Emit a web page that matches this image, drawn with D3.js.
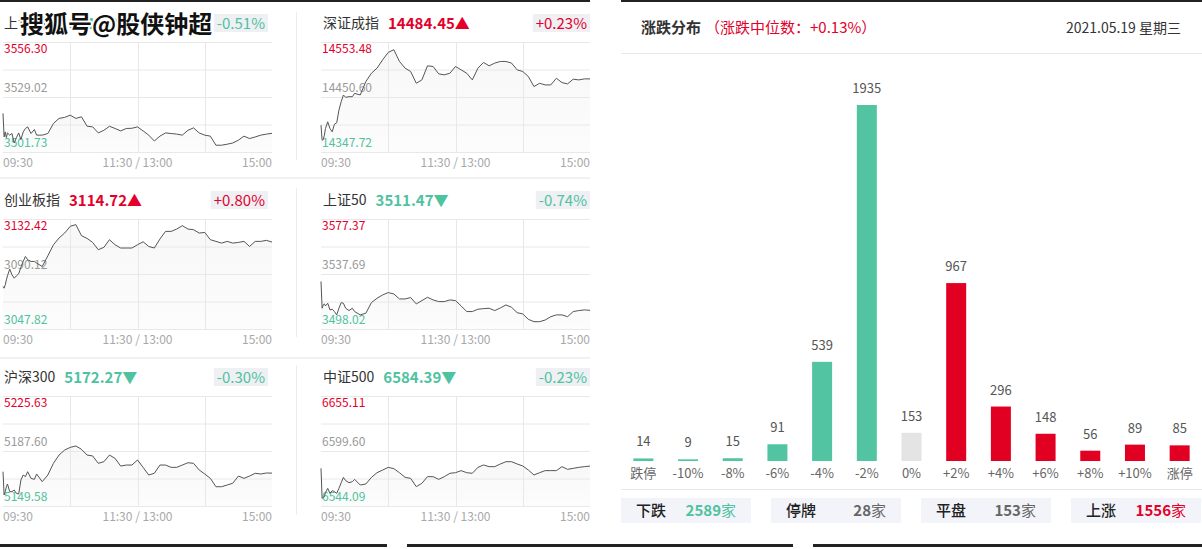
<!DOCTYPE html>
<html><head><meta charset="utf-8">
<script src="https://cdn.jsdelivr.net/npm/d3@7"></script>
<style>
body{margin:0;background:#fff;}
svg{display:block;font-family:"Noto Sans CJK SC","Noto Sans",sans-serif;}
</style>
</head><body>
<svg id="c" width="1202" height="549"></svg>
<script>
// ---------------- data ----------------
const minutes = [0,1,2,3,4,6,8,10,12,14,16,18,20,22,25,28,30,35,40,45,50,55,60,65,70,75,80,85,90,95,100,105,110,115,120,125,130,135,140,145,150,155,160,165,170,175,180,185,190,195,200,205,210,215,220,225,230,235,240];
const indexNames = ["上证指数","深证成指","创业板指","上证50","沪深300","中证500"];
const lastPrices = ["3510.96","14484.45","3114.72","3511.47","5172.27","6584.39"];
const changePcts = ["-0.51%","+0.23%","+0.80%","-0.74%","-0.30%","-0.23%"];
const axisHigh = [3556.30,14553.48,3132.42,3577.37,5225.63,6655.11];
const axisMid  = [3529.02,14450.60,3090.12,3537.69,5187.60,6599.60];
const axisLow  = [3501.73,14347.72,3047.82,3498.02,5149.58,6544.09];
const timeTicks = [[0,"09:30"],[120,"11:30 / 13:00"],[240,"15:00"]];

const shPrices = [3520.9,3509.2,3511.7,3508.9,3511.2,3510.1,3510.9,3506.2,3508.9,3511.2,3507.9,3511.7,3513.4,3514.2,3510.9,3512.9,3510.1,
 3510.1,3510.9,3515.9,3518.4,3518.9,3520.0,3518.4,3519.2,3514.5,3514.2,
 3511.2,3512.5,3514.5,3513.4,3512.2,3513.4,3513.5,3514.2,3512.2,3510.1,
 3507.2,3509.6,3511.2,3510.9,3510.6,3510.1,3512.5,3513.7,3511.2,3510.1,
 3509.6,3505.1,3505.1,3505.6,3506.2,3507.6,3509.6,3508.4,3509.2,3510.1,
 3510.6,3511.0];
const szPrices = [14397.9,14369.7,14370.9,14379.1,14391.6,14404.2,14391.6,14385.4,14399.8,14402.3,14426.1,14441.8,14454.4,14450.0,14451.2,14451.2,14457.5,
 14454.4,14479.5,14495.1,14504.6,14520.2,14534.0,14539.1,14517.1,14504.6,14498.3,
 14476.3,14482.6,14508.9,14507.7,14493.9,14492.0,14495.1,14507.7,14501.4,14495.1,
 14482.6,14504.6,14515.2,14508.9,14514.0,14517.1,14517.1,14514.0,14501.4,14498.3,
 14488.9,14470.1,14476.3,14473.2,14473.2,14485.7,14477.6,14475.1,14483.9,14482.6,
 14484.5,14484.45];
const cybPrices = [3080.5,3079.2,3081.8,3085.6,3088.7,3093.9,3089.5,3086.9,3088.7,3090.3,3095.4,3099.8,3103.6,3101.1,3099.8,3099.8,3098.5,
 3095.9,3104.1,3112.6,3117.8,3121.6,3126.8,3128.1,3119.6,3117.5,3114.4,
 3108.8,3110.6,3116.5,3112.6,3110.1,3110.1,3110.1,3112.6,3114.9,3111.3,
 3110.1,3117.0,3122.9,3122.9,3124.7,3127.3,3124.7,3124.2,3121.6,3122.1,
 3116.5,3115.2,3113.9,3115.2,3113.9,3114.4,3115.2,3111.3,3115.2,3115.2,
 3116.0,3114.7];
const sz50Prices = [3532.3,3513.0,3515.4,3516.1,3514.7,3516.6,3511.8,3512.3,3510.6,3508.2,3513.0,3517.1,3516.6,3513.0,3511.3,3513.0,3510.6,
 3508.2,3509.4,3517.1,3520.2,3522.6,3524.3,3523.3,3519.7,3519.7,3520.7,
 3516.1,3518.5,3520.9,3519.0,3517.8,3517.8,3519.0,3518.5,3514.7,3510.6,
 3510.6,3512.3,3512.7,3513.0,3511.3,3513.2,3515.4,3513.7,3509.8,3508.9,
 3505.0,3503.3,3503.3,3504.5,3506.9,3508.2,3508.2,3506.9,3510.6,3511.3,
 3511.8,3511.5];
const hs300Prices = [5173.3,5157.2,5159.5,5162.9,5164.8,5159.5,5159.5,5160.6,5158.3,5157.9,5167.6,5171.0,5169.9,5173.3,5168.7,5168.0,5171.7,
 5166.4,5171.0,5179.1,5184.8,5188.3,5190.1,5191.1,5188.8,5184.8,5184.2,
 5179.1,5180.2,5184.8,5182.5,5177.2,5177.9,5177.9,5181.4,5176.3,5171.0,
 5172.2,5177.9,5177.9,5176.3,5176.3,5177.9,5179.5,5179.1,5174.5,5171.7,
 5168.7,5162.9,5162.9,5164.1,5165.3,5170.3,5168.7,5170.3,5172.2,5171.7,
 5172.4,5172.3];
const zz500Prices = [6582.1,6551.8,6552.8,6553.5,6557.6,6561.9,6556.9,6559.6,6558.6,6556.9,6561.9,6567.6,6573.0,6569.7,6567.6,6568.7,6571.0,
 6565.3,6566.3,6573.0,6577.7,6580.4,6583.1,6581.8,6577.7,6573.0,6572.0,
 6563.6,6567.0,6573.7,6573.7,6571.0,6573.7,6577.1,6577.7,6579.8,6577.7,
 6577.1,6583.1,6585.5,6583.8,6583.8,6586.5,6588.8,6588.8,6586.5,6584.5,
 6580.4,6575.4,6577.7,6579.8,6579.8,6579.8,6583.8,6581.1,6582.1,6583.1,
 6583.8,6584.4];
const priceSeries = [shPrices,szPrices,cybPrices,sz50Prices,hs300Prices,zz500Prices];

const distCategories = ["跌停","-10%","-8%","-6%","-4%","-2%","0%","+2%","+4%","+6%","+8%","+10%","涨停"];
const distCounts = [14,9,15,91,539,1935,153,967,296,148,56,89,85];
const summaryLabels = ["下跌","停牌","平盘","上涨"];
const summaryCounts = [2589,28,153,1556];
const medianChange = "+0.13%";
const dateText = "2021.05.19 星期三";

// ---------------- style ----------------
const RED = "#e3002b", GREEN = "#4fc29f", GRAY_TXT = "#999";
const svg = d3.select("#c");
const defs = svg.append("defs");

// ---------------- left panel ----------------
svg.append("rect").attr("x",0).attr("y",0).attr("width",590).attr("height",2).attr("fill","#222");
[177,357].forEach(y=>svg.append("rect").attr("x",0).attr("y",y).attr("width",590).attr("height",2).attr("fill","#f1f1f3"));
[[12,160],[188,337],[365,515]].forEach(r=>svg.append("rect").attr("x",296).attr("y",r[0]).attr("width",1).attr("height",r[1]-r[0]).attr("fill","#ececec"));

const colLeft = [3,321], plotW = 269, rowTop = [42,219,396], plotH = 110;
const badgeRight = [268,590];

priceSeries.forEach((series,i)=>{
  const col = i%2, row = Math.floor(i/2);
  const L = colLeft[col], T = rowTop[row], R = L+plotW, B = T+plotH;
  const x = d3.scaleLinear().domain([0,240]).range([L,R]);
  const y = d3.scaleLinear().domain([axisLow[i],axisHigh[i]]).range([B,T]);
  const g = svg.append("g");
  const data = minutes.map((m,k)=>[m,series[k]]);
  const isUp = changePcts[i][0]==="+";
  const clr = isUp?RED:GREEN;

  // area
  const gid = "grad"+i;
  const gr = defs.append("linearGradient").attr("id",gid).attr("x1",0).attr("y1",0).attr("x2",0).attr("y2",1);
  gr.append("stop").attr("offset","0%").attr("stop-color","#000").attr("stop-opacity",0.03);
  gr.append("stop").attr("offset","100%").attr("stop-color","#000").attr("stop-opacity",0.012);
  g.append("path").datum(data)
    .attr("d",d3.area().x(d=>x(d[0])).y0(B).y1(d=>y(d[1])))
    .attr("fill",`url(#${gid})`);

  // grid
  d3.range(5).forEach(k=>{
    g.append("line").attr("x1",L).attr("x2",R).attr("y1",T+k*plotH/4+0.5).attr("y2",T+k*plotH/4+0.5)
      .attr("stroke","#e8e8e8").attr("stroke-width",1);
  });
  [60,120,180].forEach(m=>{
    g.append("line").attr("x1",Math.round(x(m))+0.5).attr("x2",Math.round(x(m))+0.5).attr("y1",T).attr("y2",B)
      .attr("stroke","#e8e8e8").attr("stroke-width",1);
  });

  // y labels
  g.append("text").attr("x",L+1).attr("y",T+11).attr("font-size",12).attr("fill",RED).text(axisHigh[i].toFixed(2));
  g.append("text").attr("x",L+1).attr("y",y(axisMid[i])-5).attr("font-size",12).attr("fill",GRAY_TXT).text(axisMid[i].toFixed(2));
  g.append("text").attr("x",L+1).attr("y",B-5).attr("font-size",12).attr("fill",GREEN).text(axisLow[i].toFixed(2));

  // line
  g.append("path").datum(data)
    .attr("d",d3.line().x(d=>x(d[0])).y(d=>y(d[1])))
    .attr("fill","none").attr("stroke","#555").attr("stroke-width",1);

  // x labels
  timeTicks.forEach((t,k)=>{
    g.append("text").attr("x",x(t[0])).attr("y",B+15).attr("font-size",12).attr("fill","#a8a8a8")
      .attr("text-anchor",k===0?"start":(k===1?"middle":"end")).text(t[1]);
  });

  // title
  const tx = col===0?4:323;
  const t1 = g.append("text").attr("x",tx).attr("y",T-14).attr("font-size",14).attr("fill","#333").text(indexNames[i]);
  const w1 = t1.node().getComputedTextLength();
  g.append("text").attr("x",tx+w1+9).attr("y",T-13.5).attr("font-size",15).attr("font-weight","bold").attr("fill",clr)
    .text(lastPrices[i]+(isUp?"▲":"▼"));
  // badge
  const bt = g.append("text").attr("x",badgeRight[col]-3).attr("y",T-13.5).attr("font-size",15).attr("text-anchor","end")
    .attr("fill",clr).text(changePcts[i]);
  const bw = bt.node().getComputedTextLength();
  g.insert("rect",":last-child").attr("x",badgeRight[col]-bw-6).attr("y",T-28).attr("width",bw+6).attr("height",18).attr("fill","#eef0f4");
});

// watermark (overlays the first panel title, as in the reference)
svg.append("text").attr("x",20).attr("y",33).attr("font-size",24).attr("font-weight","bold")
  .attr("fill","#111").attr("stroke","#fff").attr("stroke-width",3.5).attr("paint-order","stroke")
  .attr("stroke-linejoin","round").text("搜狐号@股侠钟超");

// ---------------- right panel ----------------
const RL = 621, RR = 1202;
svg.append("rect").attr("x",RL).attr("y",0).attr("width",RR-RL).attr("height",2).attr("fill","#222");
const ht = svg.append("text").attr("x",641).attr("y",33).attr("font-size",15).attr("font-weight","bold").attr("fill","#333").text("涨跌分布");
const htw = ht.node().getComputedTextLength();
svg.append("text").attr("x",641+htw+4).attr("y",33).attr("font-size",15).attr("fill",RED).text("（涨跌中位数："+medianChange+"）");
svg.append("text").attr("x",1181).attr("y",33).attr("font-size",14).attr("fill","#333").attr("text-anchor","end").text(dateText);
svg.append("rect").attr("x",RL).attr("y",53).attr("width",RR-RL).attr("height",1).attr("fill","#e8e8e8");

const bx = d3.scaleBand().domain(distCategories).range([RL,RR]);
const by = d3.scaleLinear().domain([0,d3.max(distCounts)]).range([461,105]);
const barColor = (i)=> i<6?"#52c4a1":(i===6?"#e4e4e4":"#e10022");
const bars = svg.append("g");
distCategories.forEach((c,i)=>{
  const cx = bx(c)+bx.bandwidth()/2;
  bars.append("rect").attr("x",cx-10).attr("y",by(distCounts[i])).attr("width",20)
    .attr("height",461-by(distCounts[i])).attr("fill",barColor(i));
  bars.append("text").attr("x",cx).attr("y",by(distCounts[i])-12).attr("text-anchor","middle")
    .attr("font-size",13).attr("fill","#555").text(distCounts[i]);
  bars.append("text").attr("x",cx).attr("y",478).attr("text-anchor","middle")
    .attr("font-size",13).attr("fill","#666").text(c);
});
svg.append("rect").attr("x",RL).attr("y",489).attr("width",RR-RL).attr("height",1).attr("fill","#e8e8e8");

const sumColors = [GREEN,"#666","#666",RED];
summaryLabels.forEach((lab,i)=>{
  const x0 = RL + i*150;
  svg.append("rect").attr("x",x0).attr("y",498).attr("width",130).attr("height",25).attr("fill","#f3f4f9");
  svg.append("text").attr("x",x0+15).attr("y",516).attr("font-size",15).attr("font-weight",500).attr("fill","#222").text(lab);
  const vt = svg.append("text").attr("x",x0+115).attr("y",516).attr("font-size",15).attr("text-anchor","end").attr("fill",sumColors[i]);
  vt.append("tspan").attr("font-weight","bold").text(summaryCounts[i]);
  vt.append("tspan").text("家");
});

// bottom border segments
[[0,387],[407,793],[813,1202]].forEach(s=>svg.append("rect").attr("x",s[0]).attr("y",544).attr("width",s[1]-s[0]).attr("height",3).attr("fill","#222"));
</script>
</body></html>
